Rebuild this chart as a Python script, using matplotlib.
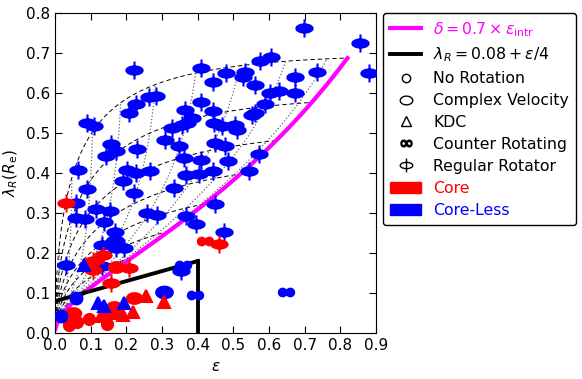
import numpy as np
import matplotlib
matplotlib.use("Agg")
import matplotlib.pyplot as plt
from matplotlib.path import Path
from matplotlib.lines import Line2D
from matplotlib.patches import Patch

# --- Data: (ellipticity, lambda_R) ---
# Regular rotators
rr_less_eps = [0.221, 0.408, 0.444, 0.479, 0.534, 0.528, 0.560, 0.576, 0.605, 0.698,
               0.854, 0.881, 0.735, 0.674, 0.674, 0.627, 0.603, 0.590, 0.562, 0.553,
               0.408, 0.364, 0.443, 0.385, 0.371, 0.357, 0.329, 0.445, 0.469, 0.506,
               0.510, 0.308, 0.347, 0.450, 0.478, 0.361, 0.408, 0.484, 0.572, 0.543,
               0.366, 0.404, 0.442, 0.335, 0.448, 0.366, 0.394, 0.473, 0.259, 0.285,
               0.353, 0.065, 0.089, 0.110, 0.207, 0.226, 0.263, 0.282, 0.156, 0.170,
               0.143, 0.229, 0.203, 0.226, 0.265, 0.089, 0.190, 0.222, 0.058, 0.060,
               0.083, 0.116, 0.155, 0.137, 0.167, 0.169, 0.133, 0.170, 0.193, 0.032,
               0.133]
rr_less_lam = [0.658, 0.663, 0.627, 0.649, 0.653, 0.641, 0.621, 0.679, 0.691, 0.761,
               0.726, 0.650, 0.652, 0.639, 0.600, 0.604, 0.600, 0.573, 0.550, 0.544,
               0.577, 0.558, 0.554, 0.537, 0.526, 0.521, 0.513, 0.525, 0.517, 0.520,
               0.508, 0.483, 0.467, 0.475, 0.467, 0.438, 0.433, 0.429, 0.447, 0.406,
               0.396, 0.397, 0.406, 0.363, 0.323, 0.292, 0.273, 0.253, 0.300, 0.294,
               0.154, 0.407, 0.525, 0.518, 0.550, 0.573, 0.590, 0.593, 0.473, 0.454,
               0.443, 0.459, 0.407, 0.401, 0.404, 0.360, 0.379, 0.351, 0.326, 0.288,
               0.284, 0.310, 0.305, 0.277, 0.252, 0.233, 0.220, 0.213, 0.213, 0.171,
               0.168]
rr_core_eps = [0.030, 0.134, 0.106, 0.106, 0.208, 0.157, 0.460]
rr_core_lam = [0.326, 0.196, 0.179, 0.158, 0.163, 0.125, 0.223]

# Complex velocity
cv_core_eps = [0.171, 0.222, 0.166, 0.157, 0.050]
cv_core_lam = [0.166, 0.088, 0.066, 0.050, 0.050]
cv_less_eps = [0.305]
cv_less_lam = [0.102]

# No rotation
nr_core_eps = [0.039, 0.063, 0.095, 0.147]
nr_core_lam = [0.021, 0.029, 0.035, 0.023]
nr_less_eps = [0.060, 0.017]
nr_less_lam = [0.088, 0.042]

# KDC
kdc_core_eps = [0.129, 0.162, 0.190, 0.218, 0.255, 0.306]
kdc_core_lam = [0.042, 0.050, 0.046, 0.054, 0.092, 0.079]
kdc_less_eps = [0.082, 0.120, 0.138, 0.194]
kdc_less_lam = [0.170, 0.075, 0.067, 0.075]

# Counter rotating
cr_core_eps = [0.422]
cr_core_lam = [0.231]
cr_less_eps = [0.359, 0.392, 0.648]
cr_less_lam = [0.171, 0.096, 0.104]

# --- Model grid (Binney 2005 / Cappellari 2007), delta = 0.7 eps_intr ---
eps_max = 0.82
eps_intr_lines = [0.82, 0.72, 0.62, 0.52, 0.42, 0.32, 0.22, 0.12]
incl_lines = [9, 18, 27, 36, 45, 54, 63, 72, 81]


def model(eps_intr, incl):
    e = np.sqrt(1 - (1 - eps_intr) ** 2)
    asn = np.arcsin(e)
    omega = 0.5 * (asn - e * np.sqrt(1 - e ** 2)) / (e * np.sqrt(1 - e ** 2) - (1 - e ** 2) * asn)
    delta = 0.7 * eps_intr
    vs2 = ((1 - delta) * omega - 1) / (0.15 * (1 - delta) * omega + 1)
    vs = np.sqrt(np.clip(vs2, 0, None))
    si, ci = np.sin(incl), np.cos(incl)
    eps_obs = 1 - np.sqrt(1 + eps_intr * (eps_intr - 2) * si ** 2)
    vs_obs = vs * si / np.sqrt(1 - delta * ci ** 2)
    k = 1.1
    lam = k * vs_obs / np.sqrt(1 + k ** 2 * vs_obs ** 2)
    return eps_obs, lam


# --- Markers ---
t = np.linspace(0, 2 * np.pi, 60)
circ_codes = [Path.MOVETO] + [Path.LINETO] * (len(t) - 2) + [Path.CLOSEPOLY]
ell = np.column_stack([0.9 * np.cos(t), 0.45 * np.sin(t)])
rr_marker = Path(np.vstack([ell, [[0, -1], [0, 1]]]), circ_codes + [Path.MOVETO, Path.LINETO])
ell2 = np.column_stack([np.cos(t), 0.7 * np.sin(t)])
cv_marker = Path(ell2, circ_codes)
c1 = np.column_stack([-0.5 + 0.5 * np.cos(t), 0.5 * np.sin(t)])
c2 = np.column_stack([0.5 + 0.5 * np.cos(t), 0.5 * np.sin(t)])
cr_marker = Path(np.vstack([c1, c2]), circ_codes + circ_codes)

plt.rcParams['font.size'] = 11
plt.rcParams['mathtext.fontset'] = 'dejavusans'

fig = plt.figure(figsize=(5.82, 3.79), dpi=100)
ax = fig.add_axes([0.0945, 0.121, 0.5515, 0.845])

# model lines
ii = np.radians(np.linspace(0.01, 90, 200))
for ei in eps_intr_lines:
    x, y = model(ei, ii)
    ax.plot(x, y, 'k--', lw=0.7, dashes=(4.5, 3), zorder=1)
ee = np.linspace(0.001, eps_max, 200)
for inc in incl_lines:
    x, y = model(ee, np.radians(inc))
    ax.plot(x, y, ':', color='0.4', lw=0.9, zorder=1)
x, y = model(ee, np.pi / 2)
ax.plot(x, y, color='magenta', lw=3, zorder=2)

# lambda_R = 0.08 + eps/4 boundary
xb = np.array([0.0, 0.4])
ax.plot(xb, 0.08 + xb / 4, 'k-', lw=2.8, zorder=2)
ax.plot([0.4, 0.4], [0.0, 0.08 + 0.4 / 4], 'k-', lw=2.8, zorder=2)

groups = [
    (rr_less_eps, rr_less_lam, rr_marker, 'blue', 13),
    (rr_core_eps, rr_core_lam, rr_marker, 'red', 13),
    (cv_core_eps, cv_core_lam, cv_marker, 'red', 11),
    (cv_less_eps, cv_less_lam, cv_marker, 'blue', 12),
    (nr_core_eps, nr_core_lam, 'o', 'red', 8),
    (nr_less_eps, nr_less_lam, 'o', 'blue', 8.5),
    (kdc_core_eps, kdc_core_lam, '^', 'red', 8.5),
    (kdc_less_eps, kdc_less_lam, '^', 'blue', 8.5),
    (cr_core_eps, cr_core_lam, cr_marker, 'red', 11),
    (cr_less_eps, cr_less_lam, cr_marker, 'blue', 11),
]
for xs, ys, mk, col, ms in groups:
    ax.plot(xs, ys, linestyle='none', marker=mk, color=col, mfc=col, mec=col,
            ms=ms, mew=1.5, zorder=3)

ax.set_xlim(0, 0.9)
ax.set_ylim(0, 0.8)
ax.set_xticks(np.arange(0, 0.91, 0.1))
ax.set_yticks(np.arange(0, 0.81, 0.1))
ax.tick_params(direction='in', top=True, right=True, length=5, width=0.8)
ax.set_xlabel(r'$\epsilon$')
ax.set_ylabel(r'$\lambda_R(R_{\rm e})$')

handles = [
    Line2D([], [], color='magenta', lw=3),
    Line2D([], [], color='black', lw=2.8),
    Line2D([], [], ls='none', marker='o', mfc='none', mec='k', ms=6, mew=1),
    Line2D([], [], ls='none', marker=cv_marker, mfc='none', mec='k', ms=9, mew=1),
    Line2D([], [], ls='none', marker='^', mfc='none', mec='k', ms=7, mew=1),
    Line2D([], [], ls='none', marker=r'$\infty$', color='k', ms=8),
    Line2D([], [], ls='none', marker=rr_marker, mfc='none', mec='k', ms=10, mew=1),
    Patch(facecolor='red', edgecolor='red'),
    Patch(facecolor='blue', edgecolor='blue'),
]
labels = [r'$\delta = 0.7 \times \epsilon_{\rm intr}$', r'$\lambda_R = 0.08 + \epsilon/4$',
          'No Rotation', 'Complex Velocity', 'KDC', 'Counter Rotating',
          'Regular Rotator', 'Core', 'Core-Less']
leg = ax.legend(handles, labels, loc='upper left', bbox_to_anchor=(1.022, 1.0),
                borderaxespad=0, handlelength=2.0, handletextpad=0.75,
                borderpad=0.45, fancybox=True, framealpha=1,
                edgecolor='k', labelspacing=0.44, fontsize=11.3)
text_colors = ['magenta', 'k', 'k', 'k', 'k', 'k', 'k', 'red', 'blue']
for txt, c in zip(leg.get_texts(), text_colors):
    txt.set_color(c)

fig.savefig('out.png', dpi=100)
